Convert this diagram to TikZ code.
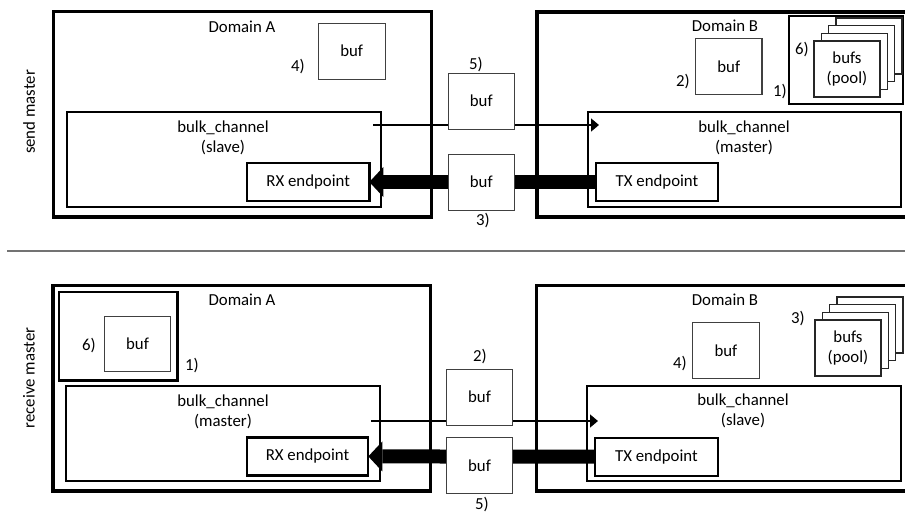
\documentclass[tikz,border=0pt]{standalone}
\usepackage{fontspec}
\setmainfont{Carlito}
\usetikzlibrary{arrows.meta}
\begin{document}
\begin{tikzpicture}[x=1pt,y=-1pt,
  every node/.style={font=\fontsize{16.8}{20}\selectfont},
  sz/.style 2 args={minimum width=#1pt, minimum height=#2pt, inner sep=0pt, outer sep=0pt},
  domframe/.style={draw, line width=3.4pt},
  chanbox/.style={draw, line width=2pt},
  endpoint/.style={draw, line width=2.3pt, fill=white},
  bufbox/.style={draw=black!75, line width=1.1pt, fill=white},
  poolframe/.style={draw, line width=2.6pt},
  cardbox/.style={draw=black!85, line width=1.2pt, fill=white, sz={66}{56}},
  lbl/.style={inner sep=0pt, outer sep=0pt, align=center},
  sidelbl/.style={inner sep=0pt, rotate=90},
  sepline/.style={draw=black!55, line width=2pt},
  thinflow/.style={draw, line width=1.5pt, -{Triangle[length=8pt,width=13pt]}},
  fatflow/.style={draw, line width=14pt, -{Triangle[length=14pt,width=30pt,line width=0pt]}}
]
\useasboundingbox (0,0) rectangle (905,514);
\clip (0,0) rectangle (905,514);

% ---------------- send master ----------------
\node[sidelbl] (lblsend) at (29,112) {send master};

\node[domframe, sz={378.4}{205.7}] (domA1) at (242.5,114.2) {};
\node[domframe, sz={378}{205}] (domB1) at (726,114.5) {};

% pool of buffers in domain B
\node[poolframe, sz={114.2}{88}] (poolB1) at (845.9,60) {};
\foreach \k in {3,2,1}
  \node[cardbox] (cardT\k) at ({847+7.3*\k},{69-7.7*\k}) {};
\node[cardbox, lbl] (cardT0) at (847,69) {bufs\\(pool)};

\node[bufbox, sz={66.7}{55.7}] (bufA1) at (351.7,51.2) {buf};
\node[bufbox, sz={66.3}{56}] (bufB1) at (728.8,66.3) {buf};

\node[chanbox, sz={313.8}{95.3}] (chA1) at (223.6,159.7) {};
\node[chanbox, sz={313.2}{95}] (chB1) at (744.4,159.5) {};
\node[lbl] (chA1t) at (223,138) {bulk\_channel\\(slave)};
\node[lbl] (chB1t) at (744,137.5) {bulk\_channel\\(master)};

\node[endpoint, sz={122.3}{38}] (rx1) at (308.2,182) {RX endpoint};
\node[endpoint, sz={122}{38}] (tx1) at (657,182) {TX endpoint};

\coordinate (t1s) at (373,125);
\coordinate (t1e) at (599,125);
\draw[thinflow] (t1s) -- (t1e);
\draw[fatflow] (tx1.west) -- (rx1.east);

\node[bufbox, sz={66}{55.7}] (mid1a) at (481.3,101.2) {buf};
\node[bufbox, sz={66}{55.7}] (mid1b) at (481.3,182.2) {buf};

\node[lbl] (dA1) at (242,27) {Domain A};
\node[lbl] (dB1) at (725,26) {Domain B};
\node[lbl] (n4a) at (298,67) {4)};
\node[lbl] (n5a) at (476,65) {5)};
\node[lbl] (n3a) at (483,221) {3)};
\node[lbl] (n2a) at (683,82) {2)};
\node[lbl] (n6a) at (802,50) {6)};
\node[lbl] (n1a) at (780,92) {1)};

% ---------------- separator ----------------
\coordinate (sepL) at (7,251);
\coordinate (sepR) at (905,251);
\draw[sepline] (sepL) -- (sepR);

% ---------------- receive master ----------------
\node[sidelbl] (lblrecv) at (29,378) {receive master};

\node[domframe, sz={377.7}{205.7}] (domA2) at (241.9,388.2) {};
\node[domframe, sz={377.7}{205.7}] (domB2) at (725.2,388.2) {};

\node[poolframe, sz={118.4}{88.5}] (poolA2) at (118,336.3) {};
\node[bufbox, sz={66.4}{55.7}] (bufA2) at (137.5,343.9) {buf};

\foreach \k in {3,2,1}
  \node[cardbox] (cardB\k) at ({848+7.3*\k},{348-7.7*\k}) {};
\node[cardbox, lbl] (cardB0) at (848,348) {bufs\\(pool)};

\node[bufbox, sz={66.3}{56}] (bufB2) at (725.9,350.3) {buf};

\node[chanbox, sz={313.7}{95}] (chA2) at (222.9,433.5) {};
\node[chanbox, sz={314}{95.5}] (chB2) at (743.5,433.3) {};
\node[lbl] (chA2t) at (223,412) {bulk\_channel\\(master)};
\node[lbl] (chB2t) at (743,411) {bulk\_channel\\(slave)};

\node[endpoint, sz={121.6}{38}] (rx2) at (307.5,456.4) {RX endpoint};
\node[endpoint, sz={122.7}{38}] (tx2) at (656.4,456.7) {TX endpoint};

\coordinate (t2s) at (371,421);
\coordinate (t2e) at (598,421);
\draw[thinflow] (t2s) -- (t2e);
\draw[fatflow] (tx2.west) -- (rx2.east);

\node[bufbox, sz={65.6}{55.7}] (mid2a) at (479.5,397.2) {buf};
\node[bufbox, sz={65.6}{55.6}] (mid2b) at (479.5,465.5) {buf};

\node[lbl] (dA2) at (242,300) {Domain A};
\node[lbl] (dB2) at (725,300) {Domain B};
\node[lbl] (n6b) at (89,346) {6)};
\node[lbl] (n1b) at (192,366) {1)};
\node[lbl] (n2b) at (480,357) {2)};
\node[lbl] (n5b) at (482,505) {5)};
\node[lbl] (n4b) at (680,364) {4)};
\node[lbl] (n3b) at (798,319) {3)};
\end{tikzpicture}
\end{document}
